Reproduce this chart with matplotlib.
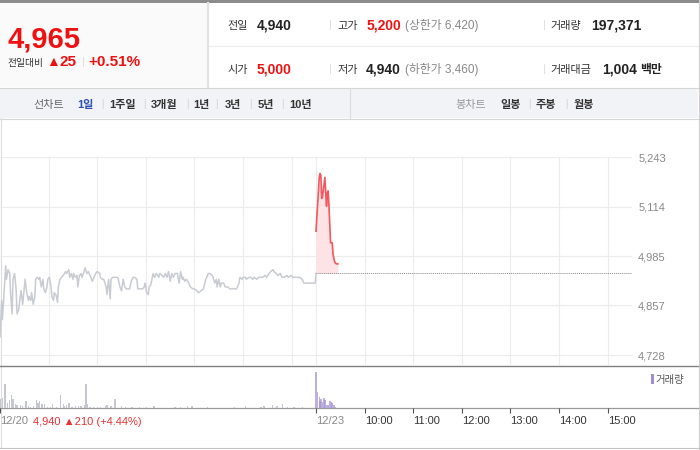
import matplotlib
matplotlib.use('Agg')
import matplotlib.pyplot as plt
from matplotlib.patches import Rectangle

plt.rcParams['font.family'] = ['Liberation Sans', 'Noto Sans CJK KR', 'DejaVu Sans']

# minutes counted from 12/20 09:00 (12/23 09:00 = 390)
prev_min = [0, 2, 3, 5, 7, 8, 10, 12, 13, 15, 16, 18, 20, 21, 23, 25, 26, 28, 30, 31,
            33, 35, 36, 38, 39, 41, 43, 44, 46, 48, 49, 51, 53, 54, 56, 58, 59, 61, 63, 64,
            66, 67, 69, 71, 72, 74, 76, 78, 81, 82, 85, 86, 88, 90, 91, 93, 95, 96, 98, 100,
            101, 103, 105, 107, 109, 111, 114, 116, 118, 120, 123, 124, 126, 128, 131, 132, 134, 136, 137, 139,
            142, 145, 146, 148, 150, 152, 154, 156, 157, 160, 162, 164, 166, 169, 170, 173, 176, 178, 179, 181,
            183, 184, 186, 188, 189, 191, 193, 196, 197, 200, 202, 204, 206, 208, 210, 212, 214, 216, 219, 221,
            223, 225, 226, 228, 230, 233, 235, 238, 240, 243, 245, 248, 251, 254, 257, 259, 262, 263, 265, 267,
            268, 270, 272, 273, 276, 278, 281, 284, 286, 290, 292, 295, 296, 299, 300, 303, 304, 307, 309, 312,
            314, 317, 319, 322, 324, 327, 329, 332, 334, 337, 338, 341, 343, 346, 348, 351, 354, 356, 359, 361,
            365, 368, 370, 373, 375, 378, 383, 387, 389, 390]
prev_price = [4775, 4870, 4820, 4890, 4960, 4925, 4950, 4940, 4890, 4835, 4925, 4940, 4895, 4835, 4845, 4880, 4895, 4860, 4905, 4925,
              4890, 4870, 4880, 4870, 4890, 4860, 4880, 4925, 4930, 4925, 4930, 4905, 4925, 4900, 4890, 4905, 4925, 4930, 4905, 4880,
              4870, 4890, 4885, 4865, 4905, 4925, 4930, 4935, 4945, 4940, 4950, 4930, 4940, 4925, 4940, 4930, 4935, 4905, 4935, 4940,
              4930, 4940, 4955, 4940, 4945, 4935, 4920, 4930, 4940, 4945, 4940, 4930, 4925, 4925, 4905, 4885, 4925, 4875, 4925, 4930,
              4930, 4930, 4925, 4905, 4895, 4925, 4905, 4900, 4900, 4900, 4920, 4930, 4930, 4925, 4900, 4900, 4900, 4905, 4915, 4890,
              4885, 4905, 4910, 4930, 4940, 4930, 4940, 4930, 4940, 4935, 4930, 4940, 4930, 4945, 4920, 4940, 4930, 4940, 4940, 4915,
              4945, 4925, 4930, 4920, 4925, 4915, 4905, 4900, 4900, 4895, 4890, 4895, 4900, 4925, 4940, 4940, 4935, 4930, 4915, 4925,
              4905, 4925, 4905, 4915, 4915, 4905, 4905, 4900, 4900, 4900, 4900, 4915, 4930, 4925, 4930, 4930, 4925, 4930, 4930, 4925,
              4930, 4925, 4930, 4930, 4930, 4935, 4930, 4940, 4945, 4950, 4945, 4940, 4935, 4940, 4930, 4930, 4935, 4930, 4935, 4930,
              4930, 4930, 4930, 4925, 4915, 4915, 4915, 4915, 4915, 4940]

today_min = [390, 394, 395, 396, 397, 398, 401, 402, 403, 404, 405, 406, 408, 410, 411, 413, 415, 417]
today_price = [5050, 5190, 5200, 5195, 5135, 5140, 5190, 5150, 5115, 5150, 5155, 5115, 5020, 5020, 4990, 4970, 4965, 4965]

prev_vol_min = [1, 3, 6, 7, 9, 12, 14, 16, 19, 21, 25, 28, 32, 35, 38, 41, 45, 47, 49, 52,
                55, 59, 62, 65, 70, 75, 78, 80, 82, 85, 89, 93, 97, 100, 104, 106, 108, 111, 115, 120,
                124, 130, 132, 137, 142, 150, 155, 163, 172, 181, 190, 216, 223, 231, 237, 256, 289, 303, 322, 326,
                336, 342, 349, 355, 363, 373]
prev_vol = [13500, 15000, 36000, 19500, 7500, 12000, 19500, 13500, 6000, 4500, 4500, 3000, 10500, 3000, 1500, 3000, 12000, 7500, 10500, 6000,
            6000, 1500, 1500, 6000, 1500, 19500, 6000, 3000, 4500, 7500, 1500, 3000, 3000, 3000, 4500, 36000, 6000, 1500, 1500, 1500,
            1500, 3000, 4500, 3000, 13500, 3000, 1500, 1500, 1500, 1500, 3000, 1500, 1500, 3000, 3000, 1500, 1500, 3000, 1500, 3000,
            4500, 3000, 6000, 1500, 1500, 1500]
today_vol_min = [390, 392, 394, 395, 396, 398, 400, 401, 403, 405, 407, 409, 410, 412, 414]
today_vol = [54000, 24000, 16500, 10000, 14000, 9000, 15000, 11500, 5000, 4000, 10000, 9000, 7500, 4000, 1000]

prev_close = 4940
y_ticks = [4728, 4857, 4985, 5114, 5243]
x_ticks = [0, 390, 450, 510, 570, 630, 690, 750]
x_labels = ['12/20', '12/23', '10:00', '11:00', '12:00', '13:00', '14:00', '15:00']
grid_min = [60, 120, 180, 240, 300, 360, 390, 450, 510, 570, 630, 690, 750]

fig = plt.figure(figsize=(7, 4.5), dpi=100)
fig.patch.set_facecolor('white')

# page furniture in pixel coords
bg = fig.add_axes([0, 0, 1, 1])
bg.set_xlim(0, 700)
bg.set_ylim(450, 0)
bg.axis('off')
bg.set_zorder(0)

bg.add_patch(Rectangle((0, 0), 700, 3, color='#8c8c8c', lw=0))
bg.add_patch(Rectangle((0, 3), 208, 84, color='#fafafa', lw=0))
bg.plot([208, 208], [3, 87], color='#e2e2e2', lw=1.5)
bg.plot([209, 698], [45.5, 45.5], color='#ececec', lw=0.8)
bg.plot([0, 700], [87.5, 87.5], color='#d6d6d6', lw=0.8)
bg.add_patch(Rectangle((0, 88), 698, 30, color='#f2f3f7', lw=0))
bg.plot([0, 698], [118.5, 118.5], color='#d6d6d6', lw=0.8)
bg.plot([350, 350], [88, 118], color='#dcdcdc', lw=0.8)
bg.plot([698.5, 698.5], [0, 450], color='#cfcfcf', lw=0.8)
bg.plot([0.5, 0.5], [118, 448], color='#dcdcdc', lw=0.8)
bg.plot([0, 698], [366, 366], color='#808080', lw=1.0)
bg.plot([0, 698], [408, 408], color='#9a9a9a', lw=0.9)
bg.plot([0, 698], [447.5, 447.5], color='#c4c4c4', lw=0.8)

red = '#ee1111'
dark = '#222222'
# current price block
bg.text(8, 47, '4,965', color=red, fontsize=21, fontweight='bold')
bg.text(7, 66, '전일대비', color='#333333', fontsize=7)
bg.text(46, 66, '▲', color=red, fontsize=10)
bg.text(60, 66, '25', color=red, fontsize=11, fontweight='bold')
bg.text(82, 65, '|', color='#dddddd', fontsize=8)
bg.text(88, 66, '+0.51%', color=red, fontsize=11, fontweight='bold')

# info table
for y, items in [(29, [(227, '전일', None), (257, '4,940', dark), (337, '고가', None), (367, '5,200', red),
                       (550, '거래량', None), (591, '197,371', dark)]),
                 (73, [(228, '시가', None), (257, '5,000', red), (337, '저가', None), (366, '4,940', dark),
                       (550, '거래대금', None), (602, '1,004', dark)])]:
    for x, s, c in items:
        if c is None:
            bg.text(x, y, s, color='#333333', fontsize=8)
        else:
            bg.text(x, y, s, color=c, fontsize=10, fontweight='bold')
    bg.text(329, y - 1, '|', color='#dddddd', fontsize=8)
    bg.text(543, y - 1, '|', color='#dddddd', fontsize=8)
bg.text(405, 29, '(상한가 6,420)', color='#888888', fontsize=8.5)
bg.text(405, 73, '(하한가 3,460)', color='#888888', fontsize=8.5)
bg.text(640, 73, '백만', color=dark, fontsize=8.5, fontweight='bold')

# period tabs
bg.text(33, 108, '선차트', color='#666666', fontsize=8)
tabs = [(77, '1일'), (109, '1주일'), (151, '3개월'), (193, '1년'), (225, '3년'), (258, '5년'), (289, '10년')]
for i, (x, s) in enumerate(tabs):
    bg.text(x, 108, s, color='#2a4fb5' if i == 0 else '#333333', fontsize=8, fontweight='bold')
for x in [101, 143, 186, 215, 249, 281, 528, 565]:
    bg.text(x, 107, '|', color='#d0d0d0', fontsize=7)
bg.text(455, 108, '봉차트', color='#999999', fontsize=8)
for x, s in [(500, '일봉'), (536, '주봉'), (574, '월봉')]:
    bg.text(x, 108, s, color='#333333', fontsize=8, fontweight='bold')

# price panel
ax = fig.add_axes([0, (450 - 366) / 450, 632 / 700, (366 - 157) / 450])
ax.set_facecolor('none')
ax.set_zorder(1)
ax.set_xlim(0, 780)
ax.set_ylim(4699.4, 5243)
for v in y_ticks:
    ax.axhline(v, color='#ececec', lw=0.8, zorder=0)
for m in grid_min:
    ax.axvline(m, color='#ececec', lw=0.8, zorder=0)
ax.plot(prev_min, prev_price, color='#c8cbd1', lw=1.1)
ax.fill_between(today_min, today_price, prev_close, color='#fde3e5', lw=0)
ax.plot(today_min, today_price, color='#f4575e', lw=1.2)
ax.hlines(prev_close, 390, 780, color='#8c8c8c', lw=0.7, linestyles=(0, (1, 1)))
ax.yaxis.tick_right()
ax.set_yticks(y_ticks)
ax.set_yticklabels([f'{v:,}' for v in y_ticks])
ax.tick_params(axis='y', length=0, pad=4.5, labelsize=8, labelcolor='#888888')
ax.set_xticks([])
for s in ax.spines.values():
    s.set_visible(False)

# volume panel
vax = fig.add_axes([0, (450 - 408) / 450, 632 / 700, 42 / 450])
vax.set_facecolor('none')
vax.set_zorder(1)
vax.set_xlim(0, 780)
vax.set_ylim(0, 63000)
vax.bar(prev_vol_min, prev_vol, width=1.6, color='#c4c7cd', lw=0)
vax.bar(today_vol_min, today_vol, width=1.8, color='#a496d4', alpha=0.75, lw=0)
vax.set_yticks([])
vax.set_xticks(x_ticks)
vax.set_xticklabels(x_labels)
vax.tick_params(axis='x', length=3.6, width=0.8, color='#555555', pad=2, labelsize=8)
for i, lbl in enumerate(vax.get_xticklabels()):
    lbl.set_ha('left')
    lbl.set_color('#888888' if i < 2 else '#333333')
for s in vax.spines.values():
    s.set_visible(False)

bg.text(33, 425, '4,940 ▲210 (+4.44%)', color='#e63333', fontsize=8)
bg.add_patch(Rectangle((651, 374), 2.5, 10, color='#9d8fd0', lw=0))
bg.text(655, 383, '거래량', color='#555555', fontsize=7.5)

fig.savefig('out.png', dpi=100)
